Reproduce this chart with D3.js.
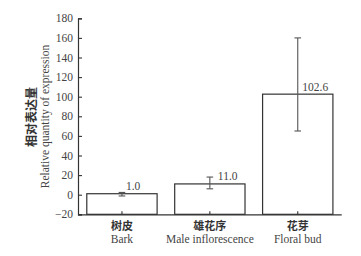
<!DOCTYPE html>
<html><head><meta charset="utf-8">
<script src="https://cdn.jsdelivr.net/npm/d3@7"></script>
<style>body{margin:0;background:#fff}svg{display:block}</style>
</head><body>
<svg id="c" width="361" height="256"></svg>
<script>
const categoriesZh = ["树皮", "雄花序", "花芽"];
const categoriesEn = ["Bark", "Male inflorescence", "Floral bud"];
const values = [1.0, 11.0, 102.6];
const errUpper = [2.3, 18, 160];
const errLower = [-1.3, 6, 65];
const yTicks = [-20, 0, 20, 40, 60, 80, 100, 120, 140, 160, 180];

const svg = d3.select("#c");
const L = 78, R = 341.7, T = 18.3, B = 214.3;
const serif = "Liberation Serif, Times New Roman, DejaVu Serif, serif";
const cjk = "Noto Sans CJK SC, sans-serif";
const ink = "#333";

const x = d3.scaleBand().domain(categoriesEn).range([L, R]).paddingInner(0.2).paddingOuter(0.1);
const y = d3.scaleLinear().domain([-20, 180]).range([B, T]);

// y axis
const ya = svg.append("g").attr("transform", `translate(${L},0)`)
  .call(d3.axisLeft(y).tickValues(yTicks).tickSize(-4).tickPadding(5)
    .tickFormat(d => d < 0 ? "\u2212" + Math.abs(d) : d));
ya.select(".domain").attr("stroke", ink).attr("stroke-width", 1.2);
ya.selectAll(".tick line").attr("stroke", ink).attr("stroke-width", 1.1);
ya.selectAll("text").style("font-family", serif).style("font-size", "11.5px").attr("fill", "#444");

// bars
svg.selectAll("rect.bar").data(values).join("rect")
  .attr("x", (d, i) => x(categoriesEn[i]))
  .attr("width", x.bandwidth())
  .attr("y", d => y(d))
  .attr("height", d => y(-20) - y(d))
  .attr("fill", "#fff").attr("stroke", ink).attr("stroke-width", 1.2);

// x axis
const xa = svg.append("g").attr("transform", `translate(0,${B})`)
  .call(d3.axisBottom(x).tickSize(-3).tickFormat(""));
xa.select(".domain").attr("stroke", ink).attr("stroke-width", 1.2).attr("d", `M${L},0.5H${R}`);
xa.selectAll(".tick line").attr("stroke", ink).attr("stroke-width", 1.1);

// error bars
const cx = i => x(categoriesEn[i]) + x.bandwidth() / 2;
const eb = svg.append("g").attr("stroke", "#555").attr("stroke-width", 1.1);
values.forEach((v, i) => {
  eb.append("line").attr("x1", cx(i)).attr("x2", cx(i)).attr("y1", y(errUpper[i])).attr("y2", y(errLower[i]));
  [errUpper[i], errLower[i]].forEach(e => {
    eb.append("line").attr("x1", cx(i) - 3.3).attr("x2", cx(i) + 3.3).attr("y1", y(e)).attr("y2", y(e));
  });
});

// value labels
svg.selectAll("text.val").data(values).join("text")
  .attr("x", (d, i) => cx(i) + (i === 0 ? 4 : i === 1 ? 8 : 4.5))
  .attr("y", d => y(d) - 3.5)
  .style("font-family", serif).style("font-size", "11.5px").attr("fill", "#444")
  .text(d => d.toFixed(1));

// category labels
svg.selectAll("text.zh").data(categoriesZh).join("text")
  .attr("x", (d, i) => cx(i)).attr("y", 229.5).attr("text-anchor", "middle")
  .style("font-family", cjk).style("font-size", "11px").style("font-weight", 700).attr("fill", "#333")
  .text(d => d);
svg.selectAll("text.en").data(categoriesEn).join("text")
  .attr("x", (d, i) => cx(i)).attr("y", 243).attr("text-anchor", "middle")
  .style("font-family", serif).style("font-size", "11.5px").attr("fill", "#444")
  .text(d => d);

// y title
svg.append("text").attr("transform", "translate(36,117) rotate(-90)").attr("text-anchor", "middle")
  .style("font-family", cjk).style("font-size", "12px").style("font-weight", 700).attr("fill", "#333")
  .text("相对表达量");
svg.append("text").attr("transform", "translate(48.5,116.5) rotate(-90)").attr("text-anchor", "middle")
  .style("font-family", serif).style("font-size", "11.5px").attr("fill", "#444")
  .text("Relative quantity of expression");
</script>
</body></html>
